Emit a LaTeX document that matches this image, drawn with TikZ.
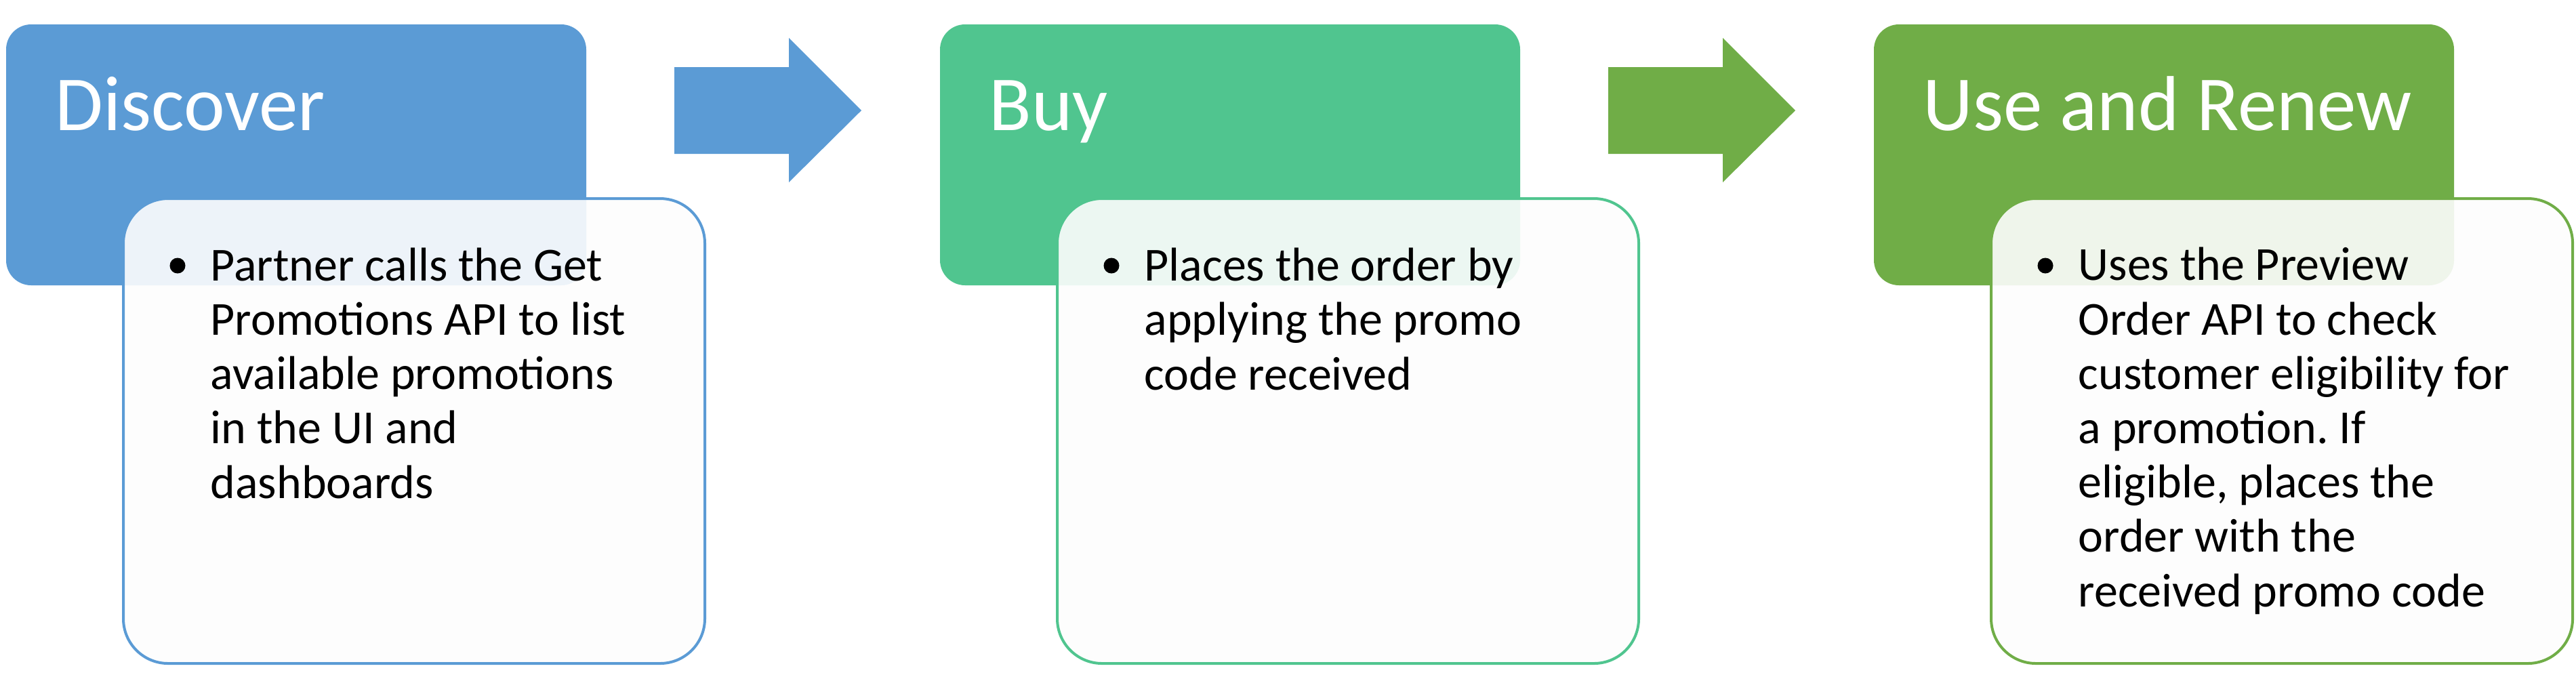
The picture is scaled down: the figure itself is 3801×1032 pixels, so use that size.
\documentclass[tikz,border=0pt]{standalone}
\usepackage{fontspec}
\setmainfont{Carlito}
\frenchspacing

\definecolor{discoverblue}{HTML}{5B9BD5}
\definecolor{buygreen}{HTML}{50C58F}
\definecolor{renewgreen}{HTML}{70AD47}

\tikzset{
  headbox/.style={rounded corners=0.37cm},
  detailbox/.style={rounded corners=0.66cm, line width=0.04cm, fill=white!99.4!black, fill opacity=0.9},
  headtext/.style={anchor=base west, inner sep=0pt, text=white, font=\fontsize{32.7}{39}\selectfont},
  % base of a multi-line node is its last line
  bodytext/.style={anchor=base west, inner sep=0pt, align=left, font=\fontsize{19.9}{22.8}\selectfont},
  bulletdot/.style={circle, fill=black, inner sep=0pt, minimum size=0.23cm},
}

\begin{document}
\begin{tikzpicture}[x=0.01cm, y=-0.01cm]
        \useasboundingbox (0,0) rectangle (3801,1032);

        % Discover
        \fill[headbox, discoverblue] (9,36) rectangle (865,421);
        \filldraw[detailbox, draw=discoverblue] (182,293) rectangle (1040,979);
        \node[headtext] (discover) at (81,192) {Discover};
        \node[bulletdot] (discover-bullet) at (262,392) {};
        \node[bodytext] (discover-text) at (310,735) {Partner calls the Get\\Promotions API to list\\available promotions\\in the UI and\\dashboards};

        \fill[discoverblue] (995,99) -- (1164,99) -- (1164,56) -- (1271,163)
            -- (1164,269) -- (1164,227) -- (995,227) -- cycle;

        % Buy
        \fill[headbox, buygreen] (1387,36) rectangle (2243,421);
        \filldraw[detailbox, draw=buygreen] (1560,293) rectangle (2418,979);
        \node[headtext] (buy) at (1459,192) {Buy};
        \node[bulletdot] (buy-bullet) at (1640,392) {};
        \node[bodytext] (buy-text) at (1688,575) {Places the order by\\applying the promo\\code received};

        \fill[renewgreen] (2373,99) -- (2542,99) -- (2542,56) -- (2649,163)
            -- (2542,269) -- (2542,227) -- (2373,227) -- cycle;

        % Use and Renew
        \fill[headbox, renewgreen] (2765,36) rectangle (3621,421);
        \filldraw[detailbox, draw=renewgreen] (2938,293) rectangle (3796,979);
        \node[headtext] (renew) at (2837,192) {Use and Renew};
        \node[bulletdot] (renew-bullet) at (3018,392) {};
        \node[bodytext] (renew-text) at (3066,895) {Uses the Preview\\Order API to check\\customer eligibility for\\a promotion. If\\eligible, places the\\order with the\\received promo code};
\end{tikzpicture}
\end{document}
